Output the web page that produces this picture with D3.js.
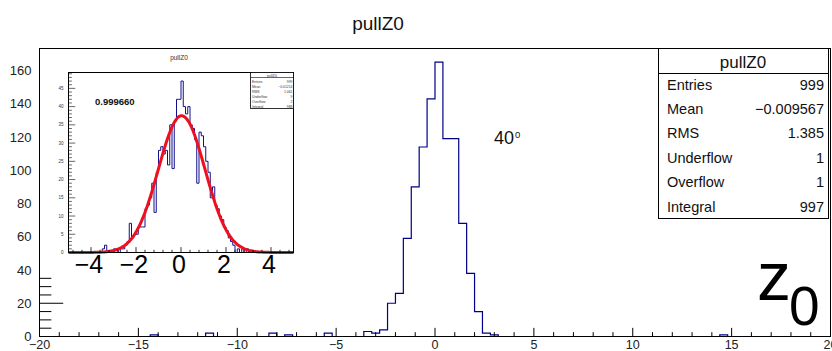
<!DOCTYPE html>
<html>
<head>
<meta charset="utf-8">
<script src="https://cdn.jsdelivr.net/npm/d3@7"></script>
<style>
  body { margin: 0; background: #fff; }
  svg { display: block; }
  text { font-family: "Liberation Sans", Arial, Helvetica, sans-serif; }
</style>
</head>
<body>
<svg id="chart" width="832" height="351"></svg>
<script>
// ---- main histogram: pullZ0, 100 bins on [-20, 20] ----
const mainTitle = "pullZ0";
const mainRange = [-20, 20];
const mainCounts = [
  0, 0, 0, 0, 0, 0, 0, 0, 0, 0,
  0, 0, 0, 0, 1, 0, 0, 0, 0, 0,
  0, 2, 0, 0, 0, 0, 0, 0, 0, 2,
  0, 1, 0, 0, 0, 0, 2, 0, 0, 0,
  0, 3, 2, 4, 20, 26, 59, 90, 114, 143,
  165, 119, 119, 68, 38, 15, 2, 1, 0, 0,
  0, 0, 0, 0, 0, 0, 0, 0, 0, 0,
  0, 0, 0, 0, 0, 0, 0, 0, 0, 0,
  0, 0, 0, 0, 0, 0, 1, 0, 0, 0,
  0, 0, 0, 0, 0, 0, 0, 0, 0, 0
];
const mainXTickLabels = [-20, -15, -10, -5, 0, 5, 10, 15, 20];
const mainYTickLabels = [0, 20, 40, 60, 80, 100, 120, 140, 160];
const statNames = ["Entries", "Mean", "RMS", "Underflow", "Overflow", "Integral"];
const statValues = ["999", "\u22120.009567", "1.385", "1", "1", "997"];
const angleLabel = ["40", "0"];
const varLabel = ["z", "0"];

// ---- zoomed histogram: 100 bins on [-5, 5] with gaussian fit ----
const insetRange = [-5, 5];
const insetCounts = [
  0, 0, 0, 0, 0, 0, 0, 0, 0, 0,
  0, 0, 0, 0, 0, 1, 2, 0, 0, 0,
  1, 1, 0, 1, 1, 2, 3, 8, 4, 5,
  5, 7, 7, 7, 12, 13, 15, 19, 11, 22,
  28, 29, 27, 28, 24, 35, 23, 36, 42, 42,
  47, 40, 38, 40, 35, 34, 31, 19, 33, 32,
  29, 25, 22, 15, 18, 13, 12, 10, 9, 7,
  6, 4, 3, 2, 0, 1, 0, 1, 0, 1,
  0, 0, 0, 0, 0, 0, 0, 0, 0, 0,
  0, 0, 0, 0, 0, 0, 0, 0, 0, 0
];
const insetXTickLabels = [-4, -2, 0, 2, 4];
const insetYTickLabels = [0, 5, 10, 15, 20, 25, 30, 35, 40, 45];
const gausFit = [37.5, 0.03, 1.04];          // constant, mean, sigma
const fitProbText = "0.999660";
const insetStatValues = ["999", "\u22120.01214", "1.061", "9", "2", "988"];

const svg = d3.select("#chart");
const fmt = v => (v < 0 ? "\u2212" + Math.abs(v) : String(v));

function stepPoints(counts, range) {
  const w = (range[1] - range[0]) / counts.length;
  const pts = [[range[0], 0]];
  counts.forEach((c, i) => {
    pts.push([range[0] + i * w, c]);
    pts.push([range[0] + (i + 1) * w, c]);
  });
  pts.push([range[1], 0]);
  return pts;
}

// ================= main pad =================
const x = d3.scaleLinear().domain(mainRange).range([39.5, 830.5]);
const y = d3.scaleLinear().domain([0, d3.max(mainCounts) * 1.05]).range([336.5, 48.5]);

const main = svg.append("g");

// histogram outline
main.append("path")
  .attr("d", d3.line().x(d => x(d[0])).y(d => y(d[1]))(stepPoints(mainCounts, mainRange)))
  .attr("fill", "none").attr("stroke", "#000088").attr("stroke-width", 1.2);

// x ticks (inside the frame)
const xLen = 0.03 * (y.range()[0] - y.range()[1]);
main.selectAll(".xminor").data(d3.range(mainRange[0], mainRange[1] + 0.001, 1)).join("line")
  .attr("x1", d => x(d)).attr("x2", d => x(d))
  .attr("y1", y(0)).attr("y2", d => y(0) - (d % 5 === 0 ? xLen : xLen / 2))
  .attr("stroke", "#000").attr("stroke-width", 1);

// y ticks (inside the frame)
const yLen = 0.03 * (x.range()[1] - x.range()[0]);
main.selectAll(".yminor").data(d3.range(0, y.domain()[1], 5)).join("line")
  .attr("y1", d => y(d)).attr("y2", d => y(d))
  .attr("x1", x(mainRange[0])).attr("x2", d => x(mainRange[0]) + (d % 20 === 0 ? yLen : yLen / 2))
  .attr("stroke", "#000").attr("stroke-width", 1);

// frame
main.append("rect")
  .attr("x", x.range()[0]).attr("y", y.range()[1])
  .attr("width", x.range()[1] - x.range()[0]).attr("height", y.range()[0] - y.range()[1])
  .attr("fill", "none").attr("stroke", "#000").attr("stroke-width", 1);

// tick labels
main.selectAll(".xl").data(mainXTickLabels).join("text")
  .attr("x", d => x(d)).attr("y", 348.5)
  .attr("text-anchor", "middle").attr("font-size", 12.5).attr("fill", "#222")
  .text(fmt);
main.selectAll(".yl").data(mainYTickLabels).join("text")
  .attr("x", 31.5).attr("y", d => y(d) + 4.5)
  .attr("text-anchor", "end").attr("font-size", 13).attr("fill", "#222")
  .text(fmt);

// title
svg.append("text").attr("x", 378).attr("y", 30).attr("text-anchor", "middle")
  .attr("font-size", 19).attr("fill", "#111").text(mainTitle);

// ================= inset pad =================
svg.append("rect").attr("x", 40).attr("y", 49).attr("width", 260).attr("height", 226).attr("fill", "#fff");

const xi = d3.scaleLinear().domain(insetRange).range([68.5, 293.5]);
const yi = d3.scaleLinear().domain([0, d3.max(insetCounts) * 1.05]).range([252.5, 72.5]);
const inset = svg.append("g");

inset.append("path")
  .attr("d", d3.line().x(d => xi(d[0])).y(d => yi(d[1]))(stepPoints(insetCounts, insetRange)))
  .attr("fill", "none").attr("stroke", "#10108a").attr("stroke-width", 1);

// gaussian fit curve
const gaus = v => gausFit[0] * Math.exp(-0.5 * Math.pow((v - gausFit[1]) / gausFit[2], 2));
inset.append("path")
  .attr("d", d3.line().x(v => xi(v)).y(v => yi(gaus(v))).curve(d3.curveBasis)(d3.range(insetRange[0], insetRange[1] + 1e-9, 0.05)))
  .attr("fill", "none").attr("stroke", "#ee1020").attr("stroke-width", 3);

// inset ticks
const xiLen = 0.03 * (yi.range()[0] - yi.range()[1]);
inset.selectAll(".ixt").data(d3.range(-4.8, 5, 0.4)).join("line")
  .attr("x1", d => xi(d)).attr("x2", d => xi(d))
  .attr("y1", yi(0)).attr("y2", d => yi(0) - (Math.abs(Math.round(d * 10) % 20) === 0 ? xiLen : xiLen / 2))
  .attr("stroke", "#000").attr("stroke-width", 0.8);
const yiLen = 0.03 * (xi.range()[1] - xi.range()[0]);
inset.selectAll(".iyt").data(d3.range(0, yi.domain()[1], 1)).join("line")
  .attr("y1", d => yi(d)).attr("y2", d => yi(d))
  .attr("x1", xi(insetRange[0])).attr("x2", d => xi(insetRange[0]) + (d % 5 === 0 ? yiLen : yiLen / 2))
  .attr("stroke", "#000").attr("stroke-width", 0.6);

inset.append("rect")
  .attr("x", xi.range()[0]).attr("y", yi.range()[1])
  .attr("width", xi.range()[1] - xi.range()[0]).attr("height", yi.range()[0] - yi.range()[1])
  .attr("fill", "none").attr("stroke", "#000").attr("stroke-width", 1);

inset.selectAll(".ixl").data(insetXTickLabels).join("text")
  .attr("x", d => xi(d) - 2).attr("y", 273)
  .attr("text-anchor", "middle").attr("font-size", 25).attr("fill", "#000")
  .text(fmt);
inset.selectAll(".iyl").data(insetYTickLabels).join("text")
  .attr("x", 63.5).attr("y", d => yi(d) + 1.6)
  .attr("text-anchor", "end").attr("font-size", 4.5).attr("fill", "#333")
  .text(fmt);

inset.append("text").attr("x", 179).attr("y", 59.5).attr("text-anchor", "middle")
  .attr("font-size", 6.5).attr("fill", "#333").text(mainTitle);
inset.append("text").attr("x", 95).attr("y", 104.5)
  .attr("font-size", 9.5).attr("font-weight", "bold").attr("fill", "#111").text(fitProbText);

// inset stats box
const isb = inset.append("g");
isb.append("rect").attr("x", 250.5).attr("y", 72.5).attr("width", 43).attr("height", 36)
  .attr("fill", "#fff").attr("stroke", "#000").attr("stroke-width", 0.8);
isb.append("line").attr("x1", 250.5).attr("x2", 293.5).attr("y1", 77.5).attr("y2", 77.5)
  .attr("stroke", "#000").attr("stroke-width", 0.6);
isb.append("text").attr("x", 272).attr("y", 76.5).attr("text-anchor", "middle")
  .attr("font-size", 3.6).attr("fill", "#333").text(mainTitle);
statNames.forEach((n, k) => {
  isb.append("text").attr("x", 252).attr("y", 82.5 + 5 * k).attr("font-size", 3.4).attr("fill", "#333").text(n);
  isb.append("text").attr("x", 292.5).attr("y", 82.5 + 5 * k).attr("text-anchor", "end")
    .attr("font-size", 3.4).attr("fill", "#333").text(insetStatValues[k]);
});

// ================= stats box =================
const sb = svg.append("g");
sb.append("rect").attr("x", 658.5).attr("y", 48.5).attr("width", 170).attr("height", 170)
  .attr("fill", "#fff").attr("stroke", "#000").attr("stroke-width", 1);
sb.append("line").attr("x1", 658.5).attr("x2", 828.5).attr("y1", 73.5).attr("y2", 73.5)
  .attr("stroke", "#000").attr("stroke-width", 1);
sb.append("text").attr("x", 743).attr("y", 67.5).attr("text-anchor", "middle")
  .attr("font-size", 17).attr("fill", "#111").text(mainTitle);
statNames.forEach((n, k) => {
  const by = 89.5 + 24.4 * k;
  sb.append("text").attr("x", 667).attr("y", by).attr("font-size", 14.5).attr("fill", "#111").text(n);
  sb.append("text").attr("x", 824).attr("y", by).attr("text-anchor", "end")
    .attr("font-size", 14.5).attr("fill", "#111").text(statValues[k]);
});

// ================= annotations =================
svg.append("text").attr("x", 494).attr("y", 143.5).attr("font-size", 18).attr("fill", "#111").text(angleLabel[0]);
svg.append("text").attr("x", 515).attr("y", 137.5).attr("font-size", 9.5).attr("fill", "#111").text(angleLabel[1]);
svg.append("text").attr("x", 757).attr("y", 300).attr("font-size", 68).attr("fill", "#000").text(varLabel[0]);
svg.append("text").attr("x", 789).attr("y", 325).attr("font-size", 55).attr("fill", "#000").text(varLabel[1]);
</script>
</body>
</html>
